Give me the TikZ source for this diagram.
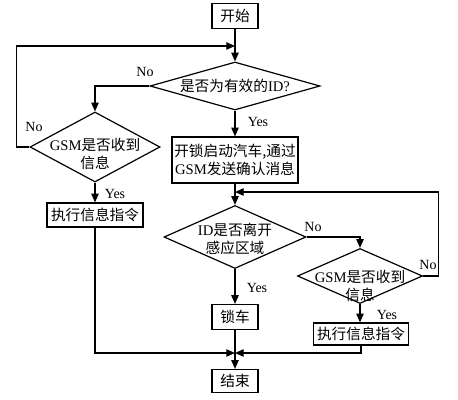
\documentclass[tikz,border=0pt]{standalone}
\usepackage{fontspec}
\setmainfont{Liberation Serif}
\newfontfamily\cjk{Noto Sans CJK SC}
\usetikzlibrary{arrows.meta,shapes.geometric,positioning,calc}
\newcommand{\en}[1]{{\rmfamily #1}}

\begin{document}
\begin{tikzpicture}[
    x=0.75pt, y=-0.75pt,
    procbox/.style={
        draw=black,
        fill=white,
        line width=0.9pt,
        inner sep=1.5pt,
        font=\fontsize{11}{13.5}\cjk,
        align=center
    },
    decbox/.style={
        draw=black,
        diamond,
        line width=0.9pt,
        inner sep=0pt
    },
    dectext/.style={font=\fontsize{11}{13.5}\cjk, align=center, inner sep=0pt},
    flow/.style={line width=0.9pt, -{Triangle[length=6.5pt,width=5.5pt]}},
    ynlabel/.style={font=\fontsize{10.5}{12}\selectfont, inner sep=1pt}
]
    \useasboundingbox (0,0) rectangle (458,400);

    % Start and ID check
    \node[procbox, minimum width=34.5pt, minimum height=18.75pt] (start) at (235,16) {开始};
    \node[decbox, minimum width=127.5pt, minimum height=36pt] (d1) at (235,86) {};
    \node[dectext] (d1t) at (d1) {是否为有效的\en{ID?}};

    % Left branch
    \node[decbox, minimum width=97.5pt, minimum height=52.5pt] (d2) at (95,147) {};
    \node[dectext] (d2t) at (95,154) {\en{GSM}是否收到\\信息};
    \node[procbox, minimum width=72pt, minimum height=18pt] (act1) at (95,215) {执行信息指令};

    % Right branch
    \node[procbox, minimum width=94.5pt, minimum height=34.5pt] (unlock) at (235,160) {开锁启动汽车,通过\\\en{GSM}发送确认消息};
    \node[decbox, minimum width=106.5pt, minimum height=47.25pt] (d3) at (235,237) {};
    \node[dectext] (d3t) at (235,239) {\en{ID}是否离开\\感应区域};
    \node[decbox, minimum width=93.75pt, minimum height=41.25pt] (d4) at (360,276) {};
    \node[dectext] (d4t) at (360,286) {\en{GSM}是否收到\\信息};
    \node[procbox, minimum width=34.5pt, minimum height=18.75pt] (lock) at (235,317) {锁车};
    \node[procbox, minimum width=71.25pt, minimum height=16.5pt] (act2) at (361,334) {执行信息指令};
    \node[procbox, minimum width=34.5pt, minimum height=17.25pt] (end) at (235,381) {结束};

    % Junctions
    \coordinate (j1) at (235,46);
    \coordinate (j2) at (235,192);
    \coordinate (j3) at (235,353);

    % Connectors
    \draw[flow] (start) -- (d1);
    \draw[flow] (d1.west) -| (d2.north);
    \draw[flow] (d2.west) -- ++(-13,0) |- (j1);
    \draw[flow] (d2) -- (act1);
    \draw[flow] (act1.south) |- (j3);
    \draw[flow] (d1) -- (unlock);
    \draw[flow] (unlock) -- (d3);
    \draw[flow] (d3.east) -| (d4.north);
    \draw[flow] (d4.east) -- ++(15,0) |- (j2);
    \draw[flow] (d3) -- (lock);
    \draw[flow] (d4.south) -- (d4.south |- act2.north);
    \draw[flow] (act2.south) |- (j3);
    \draw[flow] (lock) -- (end);

    % Yes / No labels
    \node[ynlabel] (no1) at (145,72) {No};
    \node[ynlabel] (yes1) at (258,122) {Yes};
    \node[ynlabel] (no2) at (34,127) {No};
    \node[ynlabel] (yes2) at (115,194) {Yes};
    \node[ynlabel] (no3) at (313,227) {No};
    \node[ynlabel] (yes3) at (257,288) {Yes};
    \node[ynlabel] (no4) at (428,265) {No};
    \node[ynlabel] (yes4) at (387,315) {Yes};
\end{tikzpicture}
\end{document}
